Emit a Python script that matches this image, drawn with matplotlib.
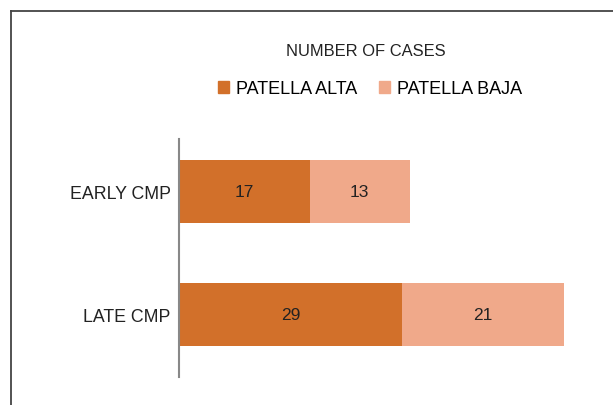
import matplotlib.pyplot as plt
from matplotlib.lines import Line2D
import numpy as np

plt.rcParams['font.family'] = ['Liberation Sans', 'DejaVu Sans']

categories = ['LATE CMP', 'EARLY CMP']
patella_alta = [29, 17]
patella_baja = [21, 13]
series_names = ['PATELLA ALTA', 'PATELLA BAJA']
colors = ['#D2702A', '#F0A98A']

W, H = 613, 406
fig = plt.figure(figsize=(W / 100, H / 100), dpi=100)

# axes placed in pixel terms
left, right, bottom, top = 179, 602, 378, 140
ax = fig.add_axes([left / W, 1 - bottom / H, (right - left) / W, (bottom - top) / H])

y = np.arange(len(categories))
bars1 = ax.barh(y, patella_alta, height=0.52, color=colors[0], label=series_names[0])
bars2 = ax.barh(y, patella_baja, left=patella_alta, height=0.52, color=colors[1], label=series_names[1])

for bars in (bars1, bars2):
    for b in bars:
        ax.text(b.get_x() + b.get_width() / 2, b.get_y() + b.get_height() / 2,
                f"{int(b.get_width())}", ha='center', va='center', fontsize=12.5, color='#222222')

ax.set_xlim(0, 55)
ax.set_ylim(-0.508, 1.427)
ax.set_yticks(y)
ax.set_yticklabels(categories, fontsize=12.8, color='#222222')
ax.tick_params(axis='y', length=0, pad=6)
ax.set_xticks([])
for s in ('top', 'right', 'bottom'):
    ax.spines[s].set_visible(False)
ax.spines['left'].set_color('#888888')
ax.spines['left'].set_linewidth(1.5)

fig.text(366 / W, 1 - 52 / H, 'NUMBER OF CASES', ha='center', va='center', fontsize=11.9, color='#222222')

handles = [plt.Rectangle((0, 0), 1, 1, color=c) for c in colors]
fig.legend(handles, series_names, loc='center', bbox_to_anchor=(370 / W, 1 - 90 / H), ncol=2,
           frameon=False, fontsize=13, handlelength=0.6, handleheight=0.6,
           handletextpad=0.4, columnspacing=1.2)

# outer frame (left and top edges)
fig.add_artist(Line2D([11 / W, 11 / W], [0, 1 - 12 / H], color='#444444', lw=1.3))
fig.add_artist(Line2D([11 / W, 1], [1 - 12 / H, 1 - 12 / H], color='#444444', lw=1.3))

fig.savefig('out.png', dpi=100)
